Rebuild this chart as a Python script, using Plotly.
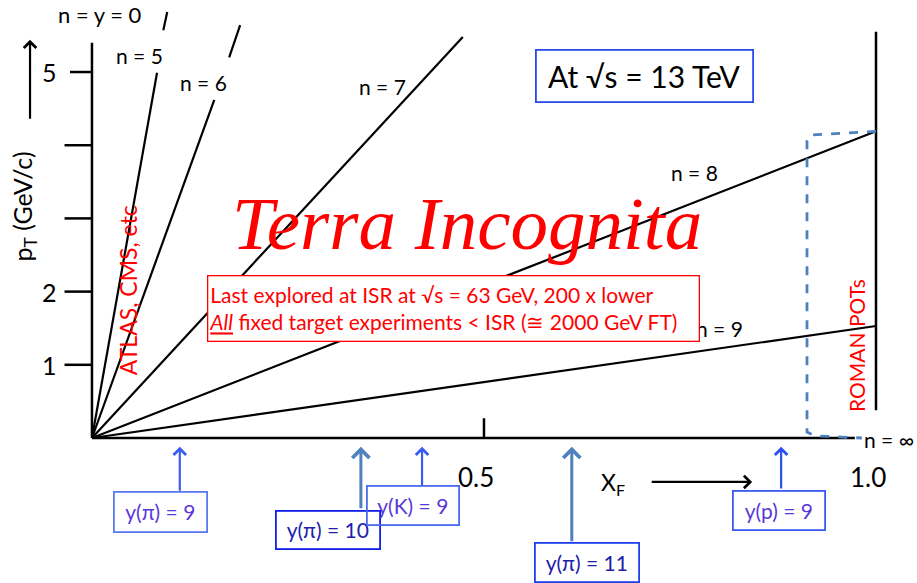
import plotly.graph_objects as go

# --- data (xF, pT) ---
# n-lines: end point of the drawn segment from the origin, plus an optional
# upper segment continuing the same line above its label
n_names = ["n = 5", "n = 6", "n = 7", "n = 8", "n = 9"]
n_end_x = [0.083, 0.156, 0.473, 1.0, 1.0]
n_end_y = [4.99, 4.62, 5.48, 4.19, 1.53]
n_top_x0 = [0.091, 0.175, None, None, None]
n_top_y0 = [5.57, 5.20, None, None, None]
n_top_x1 = [0.096, 0.189, None, None, None]
n_top_y1 = [5.82, 5.64, None, None, None]
n_label_x = [0.061, 0.142, 0.370, 0.769, 0.800]
n_label_y = [5.23, 4.86, 4.80, 3.63, 1.50]

ytick_vals = [1, 2, 3, 4, 5]
ytick_text = ["1", "2", "", "", "5"]
xtick_vals = [0.5, 1.0]
xtick_text = ["0.5", "1.0"]

# rapidity markers along xF
marker_text = ["y(\u03c0) = 9", "y(\u03c0) = 10", "y(K) = 9", "y(\u03c0) = 11", "y(p) = 9"]
marker_x = [0.112, 0.343, 0.421, 0.612, 0.879]
marker_tail_y = [-0.74, -0.98, -0.67, -1.43, -0.71]
box_x = [0.088, 0.301, 0.409, 0.631, 0.876]
box_y = [-1.01, -1.26, -0.92, -1.70, -0.99]
box_w = [91, 102, 90, 102, 90]
box_h = [38, 36, 37, 37, 37]
arrow_col = ["#3a5cf0", "#4f81bd", "#3a5cf0", "#4f81bd", "#2a50f0"]
box_col = ["#5a7af2", "#1020e8", "#4a6af0", "#2040ec", "#3a5af0"]
text_col = ["#5a38d8", "#2020a8", "#5a38d8", "#2020a8", "#5a38d8"]

# Roman pot acceptance (dashed outline)
pot_x = [1.0, 0.916, 0.912, 0.912, 0.922, 0.982]
pot_y = [4.19, 4.14, 4.06, 0.08, 0.03, 0.0]

FONT = "Lato"
fig = go.Figure()

# black frame lines
ax_x = [0, 0, None, 0, 0.973, None, 1.0, 1.0]
ax_y = [5.40, 0, None, 0, 0, None, 0.38, 5.55]
for v in ytick_vals:
    ax_x += [None, -0.028 if v == 5 else -0.035, 0]
    ax_y += [None, v, v]
ax_x += [None, 0.5, 0.5]
ax_y += [None, 0, 0.27]
fig.add_trace(go.Scatter(x=ax_x, y=ax_y, mode="lines",
                         line=dict(color="black", width=2.5), hoverinfo="skip"))

# n lines
lx, ly = [], []
for i in range(len(n_names)):
    lx += [0, n_end_x[i], None]
    ly += [0, n_end_y[i], None]
    if n_top_x0[i] is not None:
        lx += [n_top_x0[i], n_top_x1[i], None]
        ly += [n_top_y0[i], n_top_y1[i], None]
fig.add_trace(go.Scatter(x=lx, y=ly, mode="lines",
                         line=dict(color="black", width=2.2), hoverinfo="skip"))

fig.add_trace(go.Scatter(x=pot_x, y=pot_y, mode="lines",
                         line=dict(color="#4f81bd", width=2.8, dash="dash"),
                         hoverinfo="skip"))

ann = []
# axis arrows
ann.append(dict(x=-0.079, y=5.44, ax=-0.079, ay=4.34, xref="x", yref="y",
                axref="x", ayref="y", showarrow=True, arrowhead=4,
                arrowsize=1.1, arrowwidth=2.2, arrowcolor="black", text=""))
ann.append(dict(x=0.842, y=-0.60, ax=0.712, ay=-0.60, xref="x", yref="y",
                axref="x", ayref="y", showarrow=True, arrowhead=4,
                arrowsize=1.1, arrowwidth=2.2, arrowcolor="black", text=""))

for v, t in zip(ytick_vals, ytick_text):
    if t:
        ann.append(dict(x=-0.054, y=v, text=t, showarrow=False,
                        font=dict(family=FONT, size=25, color="black")))
for v, t in zip(xtick_vals, xtick_text):
    ann.append(dict(x=v - 0.01, y=-0.53, text=t, showarrow=False,
                    font=dict(family=FONT, size=26, color="black")))

ann.append(dict(x=-0.087, y=3.16, text="p<sub>T</sub> (GeV/c)", textangle=-90,
                showarrow=False, font=dict(family=FONT, size=25, color="black")))
ann.append(dict(x=0.664, y=-0.62, text="X<sub>F</sub>", showarrow=False,
                font=dict(family=FONT, size=23, color="black")))

ann.append(dict(x=0.010, y=5.79, text="n = y = 0", showarrow=False,
                font=dict(family=FONT, size=22, color="black")))
for i in range(len(n_names)):
    ann.append(dict(x=n_label_x[i], y=n_label_y[i], text=n_names[i],
                    showarrow=False, font=dict(family=FONT, size=21, color="black")))
ann.append(dict(x=0.982, y=-0.02, text="n = \u221e", xanchor="left",
                showarrow=False, font=dict(family=FONT, size=21, color="black")))

ann.append(dict(x=0.478, y=2.93, text="<i>Terra Incognita</i>", showarrow=False,
                font=dict(family="Liberation Serif", size=75, color="#ff0000")))

ann.append(dict(x=0.461, y=1.77, width=488, height=62, borderpad=1,
                bordercolor="#ff0000", borderwidth=1.3, bgcolor="white", align="left",
                text="Last explored at ISR at \u221as = 63 GeV, 200 x lower<br>"
                     "<i><u>All</u></i> fixed target experiments &lt; ISR (\u2245 2000 GeV FT)",
                showarrow=False, font=dict(family=FONT, size=21, color="#ff0000")))

ann.append(dict(x=0.705, y=4.95, width=213, height=48, borderpad=1,
                bordercolor="#2a4af0", borderwidth=1.8, text="At \u221as = 13 TeV",
                showarrow=False, font=dict(family=FONT, size=30, color="black")))

ann.append(dict(x=0.046, y=2.02, text="ATLAS, CMS, etc", textangle=-90,
                showarrow=False, font=dict(family=FONT, size=23, color="#ff0000")))
ann.append(dict(x=0.976, y=1.26, text="ROMAN POTs", textangle=-90,
                showarrow=False, font=dict(family=FONT, size=21, color="#ff0000")))

for i in range(len(marker_text)):
    ann.append(dict(x=marker_x[i], y=-0.12, ax=marker_x[i], ay=marker_tail_y[i],
                    xref="x", yref="y", axref="x", ayref="y", showarrow=True,
                    arrowhead=4, arrowsize=1.1,
                    arrowwidth=3 if arrow_col[i] == "#4f81bd" else 2.2,
                    arrowcolor=arrow_col[i], text=""))
for i in range(len(marker_text)):
    ann.append(dict(x=box_x[i], y=box_y[i], width=box_w[i], height=box_h[i],
                    borderpad=0, bordercolor=box_col[i], borderwidth=1.8,
                    text=marker_text[i], showarrow=False,
                    font=dict(family=FONT, size=21, color=text_col[i])))

fig.update_layout(
    width=917, height=583, autosize=False,
    margin=dict(l=0, r=0, t=0, b=0),
    paper_bgcolor="white", plot_bgcolor="white",
    showlegend=False,
    xaxis=dict(range=[-0.1173, 1.0523], visible=False, fixedrange=True),
    yaxis=dict(range=[-1.981, 5.984], visible=False, fixedrange=True),
    annotations=ann,
)

# the page's default body margin would shift the figure by 8px
fig.write_html("out.html", config={"displayModeBar": False},
               post_script="document.body.style.margin = '0';")
